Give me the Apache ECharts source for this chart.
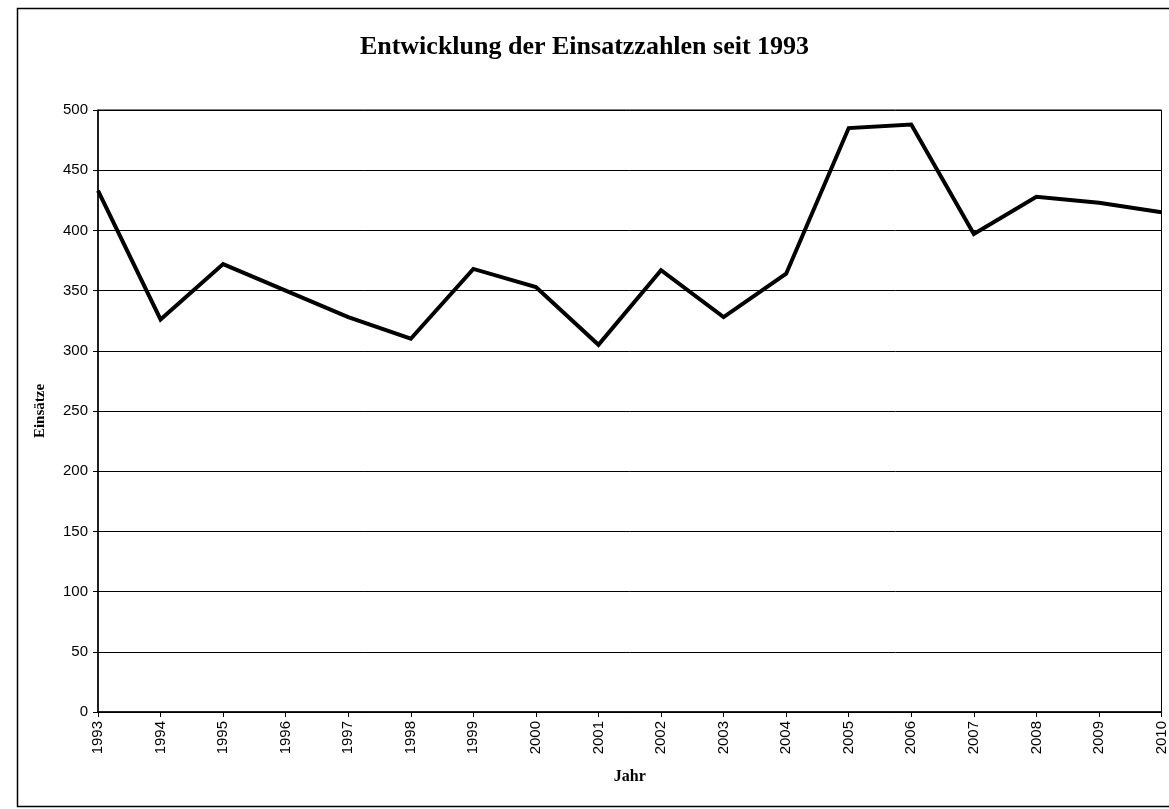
<!DOCTYPE html>
<html>
<head>
<meta charset="utf-8">
<script src="https://cdn.jsdelivr.net/npm/echarts@6/dist/echarts.min.js"></script>
<style>
  html, body { margin: 0; padding: 0; background: #fff; }
  #chart { width: 1169px; height: 809px; }
</style>
</head>
<body>
<div id="chart"></div>
<script>
// Einsatzzahlen pro Jahr
const years = ['1993', '1994', '1995', '1996', '1997', '1998', '1999', '2000', '2001',
               '2002', '2003', '2004', '2005', '2006', '2007', '2008', '2009', '2010'];
const einsaetze = [433, 326, 372, 350, 328, 310, 368, 353, 305,
                   367, 328, 364, 485, 488, 397, 428, 423, 415];

const titleText = 'Entwicklung der Einsatzzahlen seit 1993';
const xName = 'Jahr';
const yName = 'Einsätze';

const serif = 'Liberation Serif, Times New Roman, serif';
const sans = 'Liberation Sans, Arial, sans-serif';

const chart = echarts.init(document.getElementById('chart'), null, { renderer: 'canvas' });

chart.setOption({
  backgroundColor: '#ffffff',
  animation: false,
  title: {
    text: titleText,
    left: 'center',
    top: 29,
    textStyle: {
      fontFamily: serif,
      fontWeight: 'bold',
      fontSize: 26,
      color: '#000'
    }
  },
  // page frame; its right side runs off the sheet
  graphic: [{
    type: 'rect',
    left: 15,
    top: 6,
    shape: { width: 1165, height: 798 },
    style: { fill: 'none', stroke: '#000', lineWidth: 1.5 },
    silent: true
  }],
  grid: {
    left: 98,
    right: 6,
    top: 110,
    bottom: 97,
    show: true,
    borderColor: '#000',
    borderWidth: 1
  },
  xAxis: {
    type: 'category',
    data: years,
    boundaryGap: false,
    name: xName,
    nameLocation: 'middle',
    nameGap: 57,
    nameTextStyle: {
      fontFamily: serif,
      fontWeight: 'bold',
      fontSize: 16,
      color: '#000'
    },
    axisLine: { lineStyle: { color: '#000', width: 1.5 } },
    axisTick: { show: true, length: 5, lineStyle: { color: '#000' } },
    axisLabel: {
      rotate: 90,
      margin: 9,
      fontFamily: sans,
      fontSize: 15,
      color: '#000'
    },
    splitLine: { show: false }
  },
  yAxis: {
    type: 'value',
    min: 0,
    max: 500,
    interval: 50,
    name: yName,
    nameLocation: 'middle',
    nameRotate: 90,
    nameGap: 50,
    nameTextStyle: {
      fontFamily: serif,
      fontWeight: 'bold',
      fontSize: 15,
      color: '#000'
    },
    axisLine: { show: true, lineStyle: { color: '#000', width: 1.5 } },
    axisTick: { show: true, length: 5, lineStyle: { color: '#000' } },
    axisLabel: {
      margin: 10,
      fontFamily: sans,
      fontSize: 15,
      color: '#000'
    },
    splitLine: { show: true, lineStyle: { color: '#000', width: 1 } }
  },
  series: [{
    type: 'line',
    data: einsaetze,
    showSymbol: false,
    symbol: 'none',
    lineStyle: { color: '#000', width: 4, join: 'miter' },
    silent: true
  }]
});
</script>
</body>
</html>
